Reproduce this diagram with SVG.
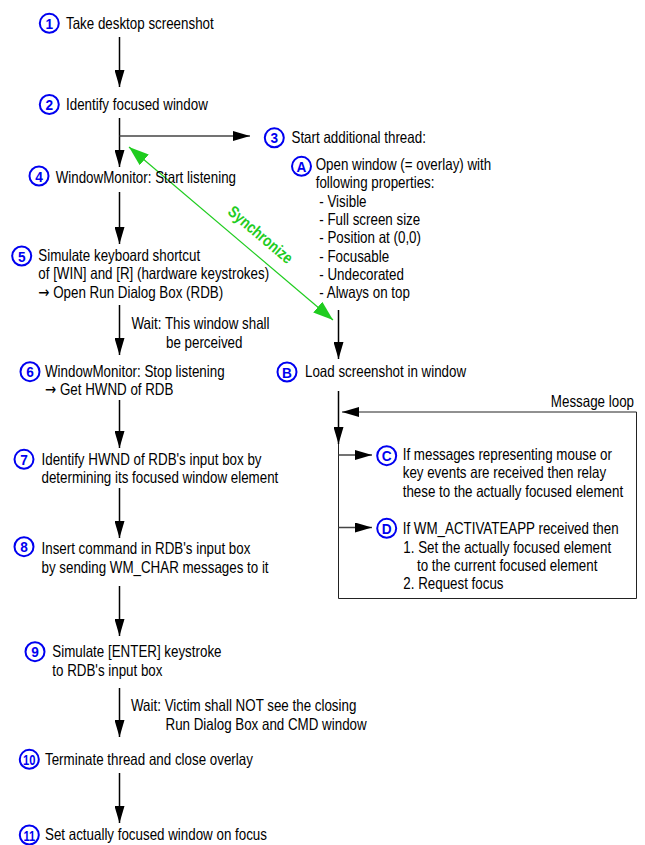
<svg xmlns="http://www.w3.org/2000/svg" width="645" height="845" viewBox="0 0 645 845">
  <style>
    text { font-family: "Liberation Sans", Arial, sans-serif; font-size: 16.3px; fill: #000; }
    .arr { font-family: "DejaVu Sans", sans-serif; }
    .num circle { fill: #fff; stroke: #0000f0; stroke-width: 2; }
    .num text { font-size: 15.5px; font-weight: bold; fill: #0000f0; text-anchor: middle; }
    .flow { stroke: #000; stroke-width: 1.5; fill: none; }
    .thin { stroke: #444; stroke-width: 1.3; fill: none; }
    .loop { stroke: #222; stroke-width: 1; fill: none; }
    .sync { stroke: #1fcc1f; stroke-width: 1.2; fill: none; }
    .sync-label { font-weight: bold; fill: #1fcc1f; text-anchor: middle; }
  </style>
  <defs>
    <marker id="arrow" viewBox="0 0 17 10" refX="17" refY="5" markerWidth="17" markerHeight="10" markerUnits="userSpaceOnUse" orient="auto">
      <path d="M0,0 L17,5 L0,10 z" fill="#000"/>
    </marker>
    <marker id="garrow" viewBox="0 0 20 14" refX="20" refY="7" markerWidth="20" markerHeight="14" markerUnits="userSpaceOnUse" orient="auto-start-reverse">
      <path d="M0,0 L20,7 L0,14 z" fill="#1fcc1f"/>
    </marker>
  </defs>

  <rect width="645" height="845" fill="#fff"/>

  <!-- connectors -->
  <g id="connectors">
    <line class="flow" x1="119.5" y1="37" x2="119.5" y2="87" marker-end="url(#arrow)"/>
    <line class="flow" x1="119.5" y1="118" x2="119.5" y2="167" marker-end="url(#arrow)"/>
    <line class="thin" x1="119.5" y1="136" x2="250" y2="136" marker-end="url(#arrow)"/>
    <line class="flow" x1="119.5" y1="192" x2="119.5" y2="244" marker-end="url(#arrow)"/>
    <line class="flow" x1="119.5" y1="305" x2="119.5" y2="355" marker-end="url(#arrow)"/>
    <line class="flow" x1="119.5" y1="400" x2="119.5" y2="448" marker-end="url(#arrow)"/>
    <line class="flow" x1="119.5" y1="488" x2="119.5" y2="538" marker-end="url(#arrow)"/>
    <line class="flow" x1="119.5" y1="586" x2="119.5" y2="636" marker-end="url(#arrow)"/>
    <line class="flow" x1="119.5" y1="688" x2="119.5" y2="737" marker-end="url(#arrow)" stroke="#666"/>
    <line class="flow" x1="119.5" y1="773" x2="119.5" y2="823" marker-end="url(#arrow)"/>

    <!-- thread column -->
    <line class="flow" x1="338.5" y1="310" x2="338.5" y2="359" marker-end="url(#arrow)"/>
    <line class="flow" x1="338.5" y1="391" x2="338.5" y2="444" marker-end="url(#arrow)"/>
    <path class="loop" d="M338.5,444 V598.5 H636.5 V412 H342" marker-end="url(#arrow)"/>
    <line class="thin" x1="338.5" y1="455" x2="372" y2="455" marker-end="url(#arrow)"/>
    <line class="thin" x1="338.5" y1="527.5" x2="372" y2="527.5" marker-end="url(#arrow)"/>

    <!-- synchronisation between both threads -->
    <line class="sync" x1="129" y1="147" x2="333" y2="320" marker-start="url(#garrow)" marker-end="url(#garrow)"/>
    <text class="sync-label" transform="translate(257,239) rotate(40.3) scale(.82,1)">Synchronize</text>
    <text transform="translate(634,406.5) scale(.82,1)" text-anchor="end">Message loop</text>
    <text transform="translate(131.5,329) scale(.82,1)">Wait: This window shall</text>
    <text transform="translate(166,347.5) scale(.82,1)">be perceived</text>
    <text transform="translate(131,711) scale(.82,1)">Wait: Victim shall NOT see the closing</text>
    <text transform="translate(165.5,729.5) scale(.82,1)">Run Dialog Box and CMD window</text>
  </g>

  <!-- steps -->
  <g id="step1">
    <g class="num" transform="translate(49.3,23.3)"><circle r="9.5"/><text y="5.5" transform="scale(.88,1)">1</text></g>
    <text transform="translate(66,29.3) scale(.82,1)">Take desktop screenshot</text>
  </g>
  <g id="step2">
    <g class="num" transform="translate(49.3,104.5)"><circle r="9.5"/><text y="5.5" transform="scale(.88,1)">2</text></g>
    <text transform="translate(66,110) scale(.82,1)">Identify focused window</text>
  </g>
  <g id="step3">
    <g class="num" transform="translate(274.3,137.8)"><circle r="9.5"/><text y="5.5" transform="scale(.88,1)">3</text></g>
    <text transform="translate(291.5,142.7) scale(.82,1)">Start additional thread:</text>
  </g>
  <g id="stepA">
    <g class="num" transform="translate(301.5,166.3)"><circle r="9.5"/><text y="5.5" transform="scale(.88,1)">A</text></g>
    <text transform="translate(315.7,170) scale(.82,1)">Open window (= overlay) with</text>
    <text transform="translate(315.7,188.3) scale(.82,1)">following properties:</text>
    <text transform="translate(319.3,206.7) scale(.82,1)">- Visible</text>
    <text transform="translate(319.3,225) scale(.82,1)">- Full screen size</text>
    <text transform="translate(319.3,243.3) scale(.82,1)">- Position at (0,0)</text>
    <text transform="translate(319.3,261.7) scale(.82,1)">- Focusable</text>
    <text transform="translate(319.3,280) scale(.82,1)">- Undecorated</text>
    <text transform="translate(319.3,298.3) scale(.82,1)">- Always on top</text>
  </g>
  <g id="step4">
    <g class="num" transform="translate(39,176)"><circle r="9.5"/><text y="5.5" transform="scale(.88,1)">4</text></g>
    <text transform="translate(55.7,182.5) scale(.82,1)">WindowMonitor: Start listening</text>
  </g>
  <g id="step5">
    <g class="num" transform="translate(21.7,256)"><circle r="9.5"/><text y="5.5" transform="scale(.88,1)">5</text></g>
    <text transform="translate(38.3,260.5) scale(.82,1)">Simulate keyboard shortcut</text>
    <text transform="translate(38.3,279) scale(.82,1)">of [WIN] and [R] (hardware keystrokes)</text>
    <text transform="translate(38.3,297.7) scale(.82,1)"><tspan class="arr">→</tspan> Open Run Dialog Box (RDB)</text>
  </g>
  <g id="step6">
    <g class="num" transform="translate(30,371.7)"><circle r="9.5"/><text y="5.5" transform="scale(.88,1)">6</text></g>
    <text transform="translate(45,376.7) scale(.82,1)">WindowMonitor: Stop listening</text>
    <text transform="translate(45,395) scale(.82,1)"><tspan class="arr">→</tspan> Get HWND of RDB</text>
  </g>
  <g id="stepB">
    <g class="num" transform="translate(287,372)"><circle r="9.5"/><text y="5.5" transform="scale(.88,1)">B</text></g>
    <text transform="translate(305,376.7) scale(.82,1)">Load screenshot in window</text>
  </g>
  <g id="stepC">
    <g class="num" transform="translate(386.7,455.7)"><circle r="9.5"/><text y="5.5" transform="scale(.88,1)">C</text></g>
    <text transform="translate(402.7,460) scale(.82,1)">If messages representing mouse or</text>
    <text transform="translate(402.7,478.3) scale(.82,1)">key events are received then relay</text>
    <text transform="translate(402.7,496.7) scale(.82,1)">these to the actually focused element</text>
  </g>
  <g id="stepD">
    <g class="num" transform="translate(386.7,528.3)"><circle r="9.5"/><text y="5.5" transform="scale(.88,1)">D</text></g>
    <text transform="translate(402.7,534.3) scale(.82,1)">If WM_ACTIVATEAPP received then</text>
    <text transform="translate(403.3,552.7) scale(.82,1)">1. Set the actually focused element</text>
    <text transform="translate(417,571) scale(.82,1)">to the current focused element</text>
    <text transform="translate(403.3,589.3) scale(.82,1)">2. Request focus</text>
  </g>
  <g id="step7">
    <g class="num" transform="translate(24,459.3)"><circle r="9.5"/><text y="5.5" transform="scale(.88,1)">7</text></g>
    <text transform="translate(41.5,465) scale(.82,1)">Identify HWND of RDB's input box by</text>
    <text transform="translate(41.5,483.3) scale(.82,1)">determining its focused window element</text>
  </g>
  <g id="step8">
    <g class="num" transform="translate(24,546.7)"><circle r="9.5"/><text y="5.5" transform="scale(.88,1)">8</text></g>
    <text transform="translate(41.5,554) scale(.82,1)">Insert command in RDB's input box</text>
    <text transform="translate(41.5,572.5) scale(.82,1)">by sending WM_CHAR messages to it</text>
  </g>
  <g id="step9">
    <g class="num" transform="translate(35,651.7)"><circle r="9.5"/><text y="5.5" transform="scale(.88,1)">9</text></g>
    <text transform="translate(52.3,657.3) scale(.82,1)">Simulate [ENTER] keystroke</text>
    <text transform="translate(52.3,676) scale(.82,1)">to RDB's input box</text>
  </g>
  <g id="step10">
    <g class="num" transform="translate(29.3,759.3)"><circle r="9.5"/><text y="5.5" transform="scale(.72,1)">10</text></g>
    <text transform="translate(45,764.5) scale(.82,1)">Terminate thread and close overlay</text>
  </g>
  <g id="step11">
    <g class="num" transform="translate(29.3,835)"><circle r="9.5"/><text y="5.5" transform="scale(.72,1)">11</text></g>
    <text transform="translate(45,840) scale(.82,1)">Set actually focused window on focus</text>
  </g>
</svg>
